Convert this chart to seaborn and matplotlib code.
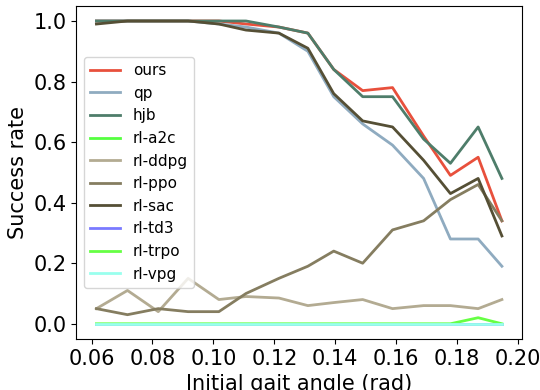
import matplotlib
matplotlib.use("Agg")
import matplotlib.pyplot as plt
import pandas as pd
import seaborn as sns

# gait angles (rad)
angles = [0.0616, 0.0718, 0.0819, 0.0917, 0.1018, 0.1107, 0.1215, 0.1310,
          0.1395, 0.1490, 0.1588, 0.1690, 0.1778, 0.1869, 0.1947]

ours = [1.0, 1.0, 1.0, 1.0, 1.0, 0.99, 0.98, 0.96, 0.84, 0.77, 0.78, 0.62, 0.49, 0.55, 0.34]
qp = [1.0, 1.0, 1.0, 1.0, 0.99, 0.98, 0.96, 0.90, 0.75, 0.66, 0.59, 0.48, 0.28, 0.28, 0.19]
hjb = [1.0, 1.0, 1.0, 1.0, 1.0, 1.0, 0.98, 0.96, 0.84, 0.75, 0.75, 0.61, 0.53, 0.65, 0.48]
rl_a2c = [0.0] * 15
rl_ddpg = [0.05, 0.11, 0.04, 0.15, 0.08, 0.09, 0.085, 0.06, 0.07, 0.08, 0.05, 0.06, 0.06, 0.05, 0.08]
rl_ppo = [0.05, 0.03, 0.05, 0.04, 0.04, 0.10, 0.15, 0.19, 0.24, 0.20, 0.31, 0.34, 0.41, 0.46, 0.34]
rl_sac = [0.99, 1.0, 1.0, 1.0, 0.99, 0.97, 0.96, 0.91, 0.76, 0.67, 0.65, 0.54, 0.43, 0.48, 0.29]
rl_td3 = [0.0] * 15
rl_trpo = [0.0, 0.0, 0.0, 0.0, 0.0, 0.0, 0.0, 0.0, 0.0, 0.0, 0.0, 0.0, 0.0, 0.02, 0.0]
rl_vpg = [0.0] * 15

methods = ["ours", "qp", "hjb", "rl-a2c", "rl-ddpg", "rl-ppo", "rl-sac", "rl-td3", "rl-trpo", "rl-vpg"]
series = [ours, qp, hjb, rl_a2c, rl_ddpg, rl_ppo, rl_sac, rl_td3, rl_trpo, rl_vpg]
colors = ["#e8503c", "#8fabc0", "#4e7d6a", "#55ff40", "#b3ab92",
          "#857d60", "#554f35", "#7a7aff", "#66ff44", "#99ffee"]

rows = []
for name, vals in zip(methods, series):
    for a, v in zip(angles, vals):
        rows.append({"angle": a, "rate": v, "method": name})
df = pd.DataFrame(rows)

fig, ax = plt.subplots(figsize=(5.4, 3.9), dpi=100)
sns.lineplot(data=df, x="angle", y="rate", hue="method", hue_order=methods,
             palette=dict(zip(methods, colors)), linewidth=2, ax=ax)

ax.set_xlabel("Initial gait angle (rad)", fontsize=15)
ax.set_ylabel("Success rate", fontsize=15)
ax.tick_params(labelsize=15)
ax.set_xticks([0.06, 0.08, 0.10, 0.12, 0.14, 0.16, 0.18, 0.20])
ax.set_xticklabels(["0.06", "0.08", "0.10", "0.12", "0.14", "0.16", "0.18", "0.20"])
ax.legend(loc="center left", fontsize=11, title=None)

fig.subplots_adjust(left=0.141, right=0.967, top=0.985, bottom=0.131)
fig.savefig("out.png", dpi=100)
